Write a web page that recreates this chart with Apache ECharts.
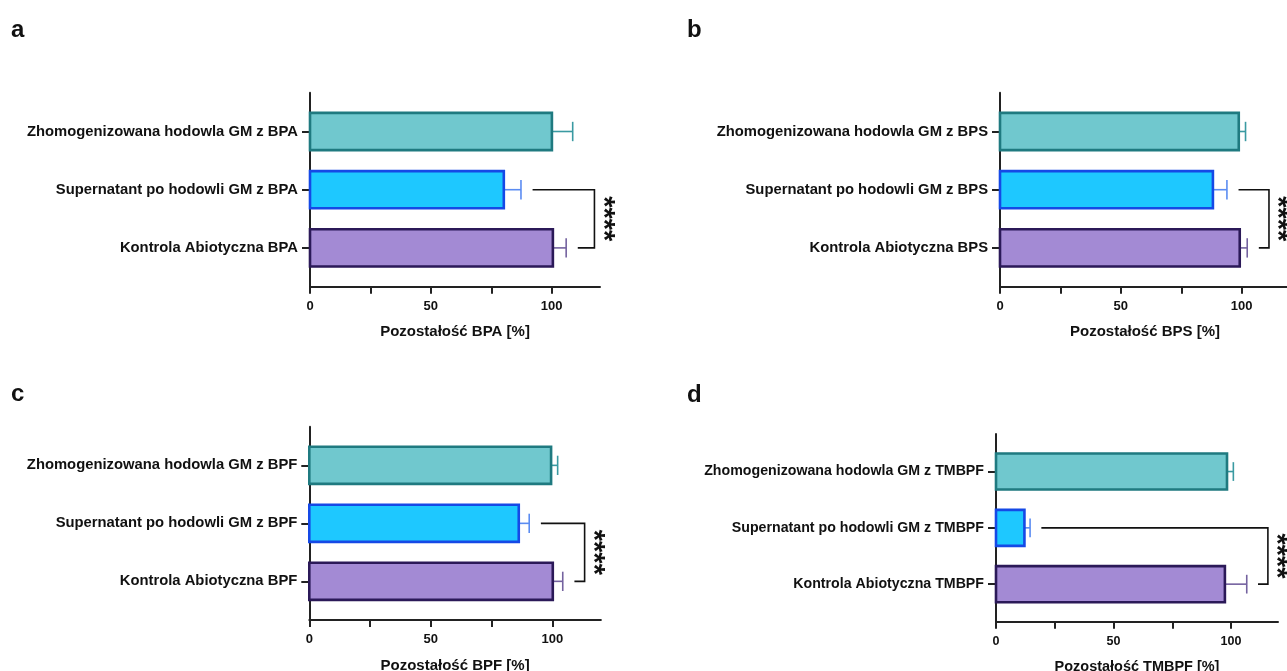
<!DOCTYPE html>
<html>
<head>
<meta charset="utf-8">
<script src="https://cdn.jsdelivr.net/npm/echarts@6/dist/echarts.min.js"></script>
<style>
  html, body { margin: 0; padding: 0; background: #ffffff; }
  #chart { width: 1287px; height: 671px; }
</style>
</head>
<body>
<div id="chart"></div>
<script>
// Group labels per compound, listed top to bottom
const labelsBPA = ['Zhomogenizowana hodowla GM z BPA', 'Supernatant po hodowli GM z BPA', 'Kontrola Abiotyczna BPA'];
const labelsBPS = ['Zhomogenizowana hodowla GM z BPS', 'Supernatant po hodowli GM z BPS', 'Kontrola Abiotyczna BPS'];
const labelsBPF = ['Zhomogenizowana hodowla GM z BPF', 'Supernatant po hodowli GM z BPF', 'Kontrola Abiotyczna BPF'];
const labelsTMBPF = ['Zhomogenizowana hodowla GM z TMBPF', 'Supernatant po hodowli GM z TMBPF', 'Kontrola Abiotyczna TMBPF'];

// Residual compound [%]: mean and SD, same order as the labels
const meanBPA = [100.1, 80.2, 100.5];
const sdBPA = [8.6, 7.1, 5.5];
const meanBPS = [98.8, 88.1, 99.2];
const sdBPS = [2.8, 5.8, 3.1];
const meanBPF = [99.5, 86.2, 100.2];
const sdBPF = [2.7, 4.3, 4.1];
const meanTMBPF = [98.3, 12.1, 97.4];
const sdTMBPF = [2.7, 2.4, 9.3];

// Axis titles and panel letters
const axisTitles = ['Pozostałość BPA [%]', 'Pozostałość BPS [%]', 'Pozostałość BPF [%]', 'Pozostałość TMBPF [%]'];
const panelLetters = ['a', 'b', 'c', 'd'];

// Value axis ticks
const xTicks = [0, 25, 50, 75, 100];
const xTickLabels = [0, 50, 100];

// Significance between supernatant (row 1) and abiotic control (row 2)
const sigPair = [1, 2];
const sigText = '****';

// ---- layout & styling ----
const FONT = '"Liberation Sans", Arial, Helvetica, sans-serif';
const rowSlots = [8, 5, 2];          // position of each row on the 0..10 vertical scale
const barFill = ['#70C8CE', '#1EC8FF', '#A38AD4'];
const barStroke = ['#1F7A80', '#1549E6', '#2B1958'];
const errColor = ['#3A9AA2', '#5B8CF2', '#74629F'];
const grids = [
  { left: 310, top: 92.7, width: 290, height: 194 },
  { left: 1000, top: 92.7, width: 290, height: 194 },
  { left: 309.3, top: 426.7, width: 291.6, height: 193.3 },
  { left: 996, top: 434, width: 282, height: 187.7 }
];
const panelScale = [1, 1, 1, 0.965];   // panel d is drawn slightly smaller
const letterPos = [
  { left: 11, top: 18 }, { left: 687, top: 18 },
  { left: 11, top: 382 }, { left: 687, top: 383 }
];

const panels = [
  { labels: labelsBPA, mean: meanBPA, sd: sdBPA },
  { labels: labelsBPS, mean: meanBPS, sd: sdBPS },
  { labels: labelsBPF, mean: meanBPF, sd: sdBPF },
  { labels: labelsTMBPF, mean: meanTMBPF, sd: sdTMBPF }
];

const option = {
  animation: false,
  backgroundColor: '#ffffff',
  title: panelLetters.map((t, i) => ({
    text: t, left: letterPos[i].left, top: letterPos[i].top, padding: 0,
    textStyle: { fontFamily: FONT, fontSize: 24, fontWeight: 'bold', color: '#111' }
  })),
  grid: grids.map(g => Object.assign({ containLabel: false, outerBoundsMode: 'none' }, g)),
  xAxis: panels.map((p, i) => ({
    type: 'value', gridIndex: i, min: 0, max: 120,
    name: axisTitles[i], nameLocation: 'middle', nameGap: 38,
    nameTextStyle: { fontFamily: FONT, fontSize: 15 * panelScale[i], fontWeight: 'bold', color: '#111' },
    axisLine: { show: true, lineStyle: { color: '#222', width: 2 } },
    axisTick: { show: true, customValues: xTicks, length: 7, lineStyle: { color: '#222', width: 2 } },
    axisLabel: { customValues: xTickLabels, margin: 13, fontFamily: FONT, fontSize: 13 * panelScale[i], fontWeight: 'bold', color: '#111' },
    splitLine: { show: false }
  })),
  yAxis: panels.map((p, i) => ({
    type: 'value', gridIndex: i, min: 0, max: 10,
    axisLine: { show: true, lineStyle: { color: '#222', width: 2 } },
    axisTick: { show: true, customValues: rowSlots, length: 8, lineStyle: { color: '#222', width: 2 } },
    axisLabel: {
      customValues: rowSlots, margin: 12,
      formatter: v => { const k = rowSlots.indexOf(v); return k >= 0 ? p.labels[k] : ''; },
      fontFamily: FONT, fontSize: i === 3 ? 14.2 : 14.8, fontWeight: 'bold', color: '#111'
    },
    splitLine: { show: false }
  })),
  series: []
};

panels.forEach((p, i) => {
  // bars with one-sided SD whiskers
  option.series.push({
    type: 'custom', xAxisIndex: i, yAxisIndex: i, clip: false,
    data: p.mean.map((m, k) => [m, rowSlots[k], p.sd[k], k]),
    encode: { x: 0, y: 1 },
    renderItem: (params, api) => {
      const v = api.value(0), pos = api.value(1), e = api.value(2), k = api.value(3);
      const s = api.coord([0, pos]);
      const end = api.coord([v, pos]);
      const cap = api.coord([v + e, pos]);
      const h = api.size([0, 1.92])[1];
      return {
        type: 'group',
        children: [
          { type: 'line', shape: { x1: end[0], y1: end[1], x2: cap[0], y2: cap[1] },
            style: { stroke: errColor[k], lineWidth: 1.6 } },
          { type: 'line', shape: { x1: cap[0], y1: cap[1] - h * 0.26, x2: cap[0], y2: cap[1] + h * 0.26 },
            style: { stroke: errColor[k], lineWidth: 1.6 } },
          { type: 'rect', shape: { x: s[0], y: s[1] - h / 2, width: end[0] - s[0], height: h },
            style: { fill: barFill[k], stroke: barStroke[k], lineWidth: 2.6 } }
        ]
      };
    }
  });

  // significance bracket between the two compared rows
  const tops = p.mean.map((m, k) => m + p.sd[k]);
  const bracketX = Math.max.apply(null, tops) + 9;
  const a = sigPair[0], b = sigPair[1];
  option.series.push({
    type: 'custom', xAxisIndex: i, yAxisIndex: i, clip: false,
    data: [[tops[a] + 4.8, rowSlots[a], tops[b] + 4.8, rowSlots[b], bracketX]],
    encode: { x: 0, y: 1 },
    renderItem: (params, api) => {
      const p1 = api.coord([api.value(0), api.value(1)]);
      const c1 = api.coord([api.value(4), api.value(1)]);
      const c2 = api.coord([api.value(4), api.value(3)]);
      const p2 = api.coord([api.value(2), api.value(3)]);
      return {
        type: 'group',
        children: [
          { type: 'polyline', shape: { points: [p1, c1, c2, p2] },
            style: { stroke: '#111', lineWidth: 1.6, fill: null } },
          { type: 'text', x: c1[0] + 8.5, y: (c1[1] + c2[1]) / 2, rotation: -Math.PI / 2,
            style: { text: sigText, font: 'bold 29px ' + FONT, fill: '#111', align: 'center', verticalAlign: 'middle' } }
        ]
      };
    }
  });
});

const chart = echarts.init(document.getElementById('chart'), null, { renderer: 'canvas' });
chart.setOption(option);
</script>
</body>
</html>
